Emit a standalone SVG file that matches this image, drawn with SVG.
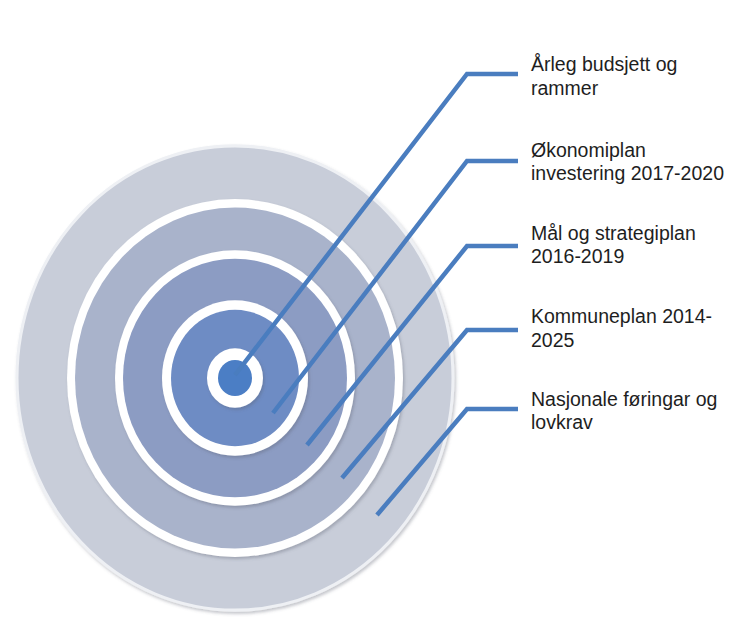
<svg xmlns="http://www.w3.org/2000/svg" width="744" height="630" viewBox="0 0 744 630">
  <style>
    .lbl { font-family: "Liberation Sans", Arial, sans-serif; font-size: 19.5px; fill: #1e1e1e; }
    .ring { fill: #ffffff; }
    .conn { fill: none; stroke: #4a7dbf; stroke-width: 4.5; stroke-linejoin: miter; stroke-linecap: butt; }
  </style>
  <defs>
    <filter id="sh" x="-10%" y="-10%" width="120%" height="120%">
      <feDropShadow dx="1.5" dy="2" stdDeviation="1.5" flood-color="#5a6070" flood-opacity="0.35"/>
    </filter>
  </defs>
  <rect width="744" height="630" fill="#ffffff"/>

  <g id="target" transform="translate(235,378) scale(1,1.065)">
    <g id="disc1">
      <circle r="218" fill="#c8cdd9" stroke="#eef0f4" stroke-width="3" filter="url(#sh)"/>
    </g>
    <g id="disc2">
      <circle r="168" class="ring" filter="url(#sh)"/>
      <circle r="160" fill="#a9b3cb"/>
    </g>
    <g id="disc3">
      <circle r="120" class="ring" filter="url(#sh)"/>
      <circle r="112" fill="#8c9cc3"/>
    </g>
    <g id="disc4">
      <circle r="73" class="ring" filter="url(#sh)"/>
      <circle r="64" fill="#6e8cc4"/>
    </g>
    <g id="disc5">
      <circle r="28" class="ring" filter="url(#sh)"/>
      <circle r="17" fill="#4b7ec5"/>
    </g>
  </g>

  <g id="connectors">
    <polyline class="conn" points="235,375 467,74 518,74"/>
    <polyline class="conn" points="273,413 467,161 518,161"/>
    <polyline class="conn" points="307,445 467,246 518,246"/>
    <polyline class="conn" points="342,478 467,330 518,330"/>
    <polyline class="conn" points="377,515 467,409 518,409"/>
  </g>

  <g id="label1">
    <text class="lbl" x="531" y="71">Årleg budsjett og</text>
    <text class="lbl" x="531" y="95">rammer</text>
  </g>
  <g id="label2">
    <text class="lbl" x="531" y="157">Økonomiplan</text>
    <text class="lbl" x="531" y="180">investering 2017-2020</text>
  </g>
  <g id="label3">
    <text class="lbl" x="531" y="240">Mål og strategiplan</text>
    <text class="lbl" x="531" y="263">2016-2019</text>
  </g>
  <g id="label4">
    <text class="lbl" x="531" y="323">Kommuneplan 2014-</text>
    <text class="lbl" x="531" y="347">2025</text>
  </g>
  <g id="label5">
    <text class="lbl" x="531" y="406">Nasjonale føringar og</text>
    <text class="lbl" x="531" y="429">lovkrav</text>
  </g>
</svg>
